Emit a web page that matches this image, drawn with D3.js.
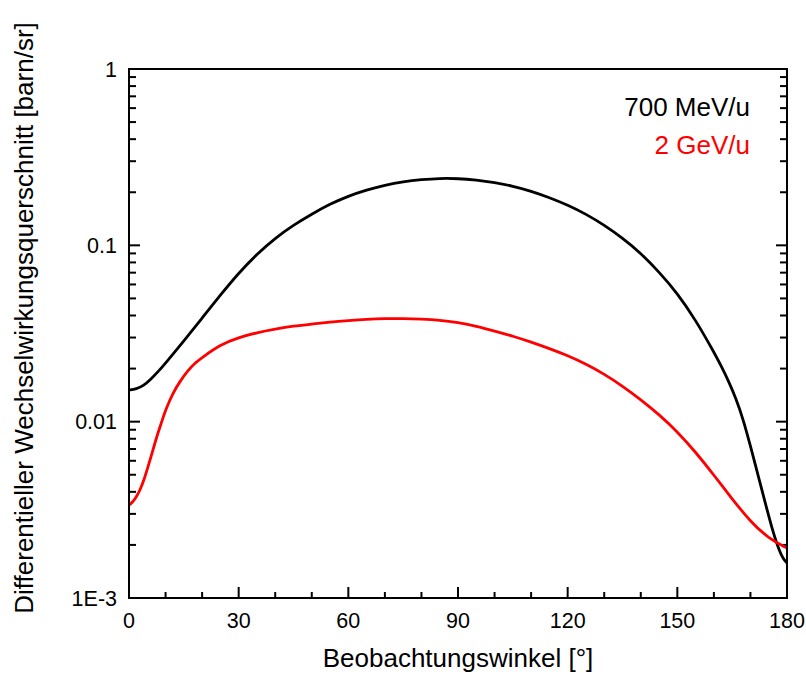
<!DOCTYPE html>
<html>
<head>
<meta charset="utf-8">
<script src="https://cdn.jsdelivr.net/npm/d3@7"></script>
<style>
  html, body { margin: 0; padding: 0; background: #fff; }
  svg { display: block; font-family: "Liberation Sans", Arial, sans-serif; }
</style>
</head>
<body>
<svg id="chart" width="806" height="677"></svg>
<script>
// Differential cross section vs. observation angle, two beam energies
const seriesNames = ["700 MeV/u", "2 GeV/u"];
const seriesColors = ["#000000", "#ff0000"];

// 700 MeV/u
const angles700 = [0, 2, 4, 6, 8, 10, 15, 20, 25, 30, 35, 40, 45, 50, 55, 60, 65, 70, 75, 80, 85, 90,
  95, 100, 105, 110, 115, 120, 125, 130, 135, 140, 145, 150, 155, 160, 162, 164, 166, 168, 170, 172, 174,
  176, 178, 179, 180];
const values700 = [0.01511, 0.01531, 0.01602, 0.01744, 0.01924, 0.02149, 0.02866, 0.03869, 0.05224, 0.06967,
  0.08928, 0.1100, 0.1303, 0.1505, 0.1715, 0.1904, 0.2060, 0.2198, 0.2301, 0.2361, 0.2399, 0.2393,
  0.2346, 0.2270, 0.2169, 0.2032, 0.1866, 0.1693, 0.1505, 0.1303, 0.1100, 0.09043, 0.07059, 0.05362,
  0.03770, 0.02482, 0.02067, 0.01700, 0.01361, 0.01035, 0.007272, 0.005044, 0.003499,
  0.002428, 0.001821, 0.001662, 0.001578];

// 2 GeV/u
const angles2000 = [0, 1, 2, 3, 4, 5, 6, 7, 8, 9, 10, 12, 14, 16, 18, 20, 25, 30, 35, 40, 45, 50, 55, 60,
  65, 70, 75, 80, 85, 90, 95, 100, 105, 110, 115, 120, 125, 130, 135, 140, 145, 150, 155, 160, 165, 170, 175, 180];
const values2000 = [0.003363, 0.003499, 0.003735, 0.004093, 0.004603, 0.005383, 0.006297, 0.007462, 0.008729,
  0.01008, 0.01163, 0.01453, 0.01700, 0.01936, 0.02149, 0.02309, 0.02737, 0.02999, 0.03201, 0.03351, 0.03486,
  0.03578, 0.03672, 0.03745, 0.03809, 0.03844, 0.03844, 0.03819, 0.03770, 0.03648, 0.03486, 0.03266, 0.03058,
  0.02828, 0.02598, 0.02371, 0.02121, 0.01862, 0.01592, 0.01334, 0.01097, 0.008787, 0.006723, 0.004978,
  0.003639, 0.002712, 0.002172, 0.001919];

const xTicks = [0, 30, 60, 90, 120, 150, 180];
const xMinorTicks = [10, 20, 40, 50, 70, 80, 100, 110, 130, 140, 160, 170];
const yTicks = [1, 0.1, 0.01, 0.001];
const yTickLabels = ["1", "0.1", "0.01", "1E-3"];

const xTitle = "Beobachtungswinkel [°]";
const yTitle = "Differentieller Wechselwirkungsquerschnitt [barn/sr]";

const svg = d3.select("#chart");
const plotL = 129, plotR = 787, plotT = 69, plotB = 598;

const x = d3.scaleLinear().domain([0, 180]).range([plotL, plotR]);
const y = d3.scaleLog().domain([0.001, 1]).range([plotB, plotT]);

// minor y ticks: 2..9 within each decade
const yMinor = [];
[0.001, 0.01, 0.1].forEach(d => { for (let k = 2; k <= 9; k++) yMinor.push(d * k); });

// smooth curves through the sampled values
const line = d3.line()
  .x(d => x(d[0]))
  .y(d => y(d[1]))
  .curve(d3.curveBasis);

const series = [
  d3.zip(angles700, values700),
  d3.zip(angles2000, values2000)
];

const axisColor = "#000";

// ticks, all pointing into the plot
const tickG = svg.append("g").attr("stroke", axisColor).attr("stroke-width", 2);
yTicks.forEach(v => {
  tickG.append("line").attr("x1", plotL).attr("x2", plotL + 11).attr("y1", y(v)).attr("y2", y(v));
  tickG.append("line").attr("x1", plotR).attr("x2", plotR - 11).attr("y1", y(v)).attr("y2", y(v));
});
yMinor.forEach(v => {
  tickG.append("line").attr("x1", plotL).attr("x2", plotL + 7).attr("y1", y(v)).attr("y2", y(v));
  tickG.append("line").attr("x1", plotR).attr("x2", plotR - 7).attr("y1", y(v)).attr("y2", y(v));
});
xTicks.forEach(v => {
  tickG.append("line").attr("x1", x(v)).attr("x2", x(v)).attr("y1", plotB).attr("y2", plotB - 11);
});
xMinorTicks.forEach(v => {
  tickG.append("line").attr("x1", x(v)).attr("x2", x(v)).attr("y1", plotB).attr("y2", plotB - 6);
});

// data lines
const g = svg.append("g");
series.forEach((s, i) => {
  g.append("path")
    .datum(s)
    .attr("fill", "none")
    .attr("stroke", seriesColors[i])
    .attr("stroke-width", 2.8)
    .attr("stroke-linejoin", "round")
    .attr("d", line);
});

// frame
svg.append("rect")
  .attr("x", plotL).attr("y", plotT)
  .attr("width", plotR - plotL).attr("height", plotB - plotT)
  .attr("fill", "none").attr("stroke", axisColor).attr("stroke-width", 2);

// tick labels
svg.append("g").selectAll("text").data(xTicks).join("text")
  .attr("x", d => x(d)).attr("y", 628)
  .attr("text-anchor", "middle")
  .attr("font-size", 21.5)
  .text(d => d);

svg.append("g").selectAll("text").data(yTicks).join("text")
  .attr("x", 117).attr("y", d => y(d) + 7.5)
  .attr("text-anchor", "end")
  .attr("font-size", 21.5)
  .text((d, i) => yTickLabels[i]);

// axis titles
svg.append("text")
  .attr("x", (plotL + plotR) / 2).attr("y", 667)
  .attr("text-anchor", "middle")
  .attr("font-size", 26)
  .text(xTitle);

svg.append("text")
  .attr("transform", "translate(33,318) rotate(-90)")
  .attr("text-anchor", "middle")
  .attr("font-size", 26)
  .text(yTitle);

// legend
seriesNames.forEach((n, i) => {
  svg.append("text")
    .attr("x", 750).attr("y", 116 + i * 38)
    .attr("text-anchor", "end")
    .attr("font-size", 26)
    .attr("fill", seriesColors[i])
    .text(n);
});
</script>
</body>
</html>
